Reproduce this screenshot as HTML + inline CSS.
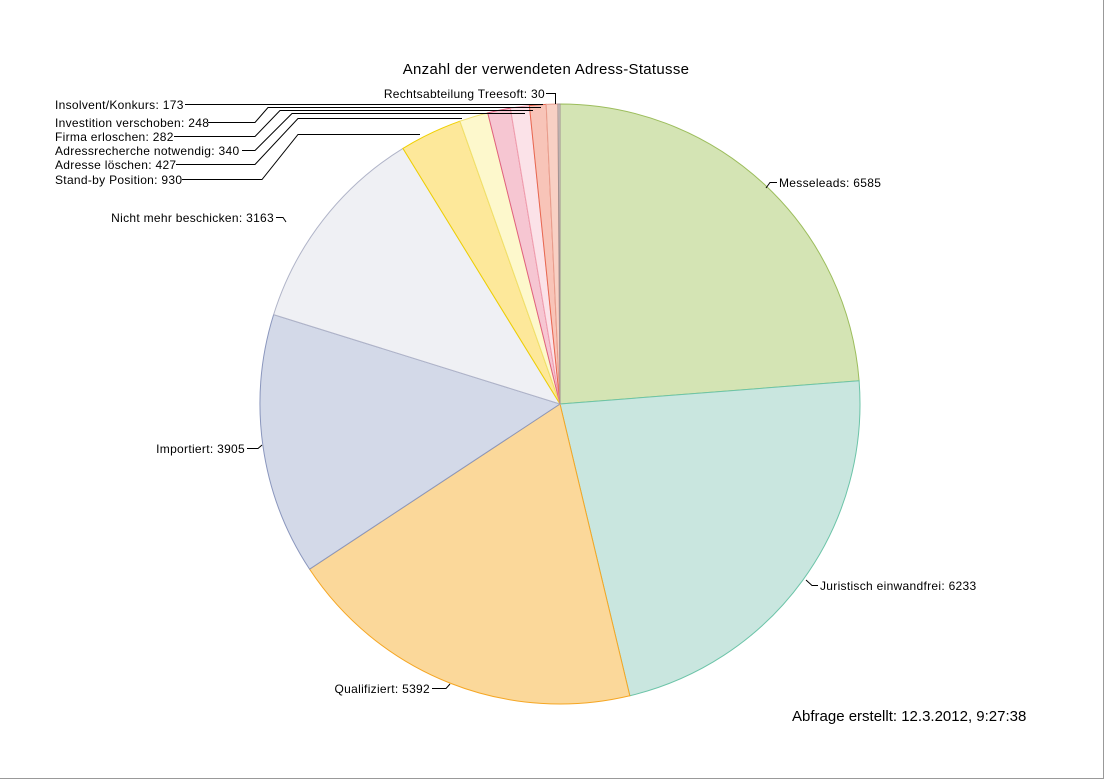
<!DOCTYPE html>
<html><head><meta charset="utf-8"><style>
body{margin:0;background:#fff}
#c{position:relative;width:1105px;height:780px;overflow:hidden;font-family:"Liberation Sans",sans-serif}
svg text{font-family:"Liberation Sans",sans-serif;fill:#000}
</style></head><body><div id="c">
<svg id="s" width="1105" height="780" xmlns="http://www.w3.org/2000/svg">
<line x1="1103.5" y1="0" x2="1103.5" y2="779" stroke="#999"/>
<line x1="0" y1="778.5" x2="1104" y2="778.5" stroke="#999"/>
<text x="546" y="74" font-size="15" letter-spacing="0.3" text-anchor="middle">Anzahl der verwendeten Adress-Statusse</text>
<g id="pie"></g>
<g fill="none" stroke="#000" stroke-width="1">
<polyline points="185,104.5 543,104.5"/>
<polyline points="208,122.5 255,122.5 268,107.5 541,107.5"/>
<polyline points="174,136.5 255,136.5 280,110.5 533,110.5"/>
<polyline points="242,150.5 255,150.5 292,113.5 525,113.5"/>
<polyline points="176,164.5 255,164.5 298,118.5 462,118.5"/>
<polyline points="182,179.5 262,179.5 298,134.5 420,134.5"/>
<polyline points="546,93.5 555.5,93.5 555.5,104"/>
<polyline points="766,188 770,182.5 777,182.5"/>
<polyline points="806,580 812,585.5 818,585.5"/>
<polyline points="432,688.5 446,688.5 450,684"/>
<polyline points="247,448.5 258,448.5 262,445"/>
<polyline points="276,217.5 283,217.5 286,222"/>
</g>
<g font-size="12" letter-spacing="0.3">
<text x="55" y="109">Insolvent/Konkurs: 173</text>
<text x="55" y="127">Investition verschoben: 248</text>
<text x="55" y="141">Firma erloschen: 282</text>
<text x="55" y="155">Adressrecherche notwendig: 340</text>
<text x="55" y="169">Adresse löschen: 427</text>
<text x="55" y="184">Stand-by Position: 930</text>
<text x="545" y="98" text-anchor="end">Rechtsabteilung Treesoft: 30</text>
<text x="779" y="187">Messeleads: 6585</text>
<text x="820" y="590">Juristisch einwandfrei: 6233</text>
<text x="430" y="693" text-anchor="end">Qualifiziert: 5392</text>
<text x="245" y="453" text-anchor="end">Importiert: 3905</text>
<text x="274" y="222" text-anchor="end">Nicht mehr beschicken: 3163</text>
</g>
<text x="792" y="721" font-size="15">Abfrage erstellt: 12.3.2012, 9:27:38</text>
</svg></div>
<script>
var d=[[6585,"#d4e4b4","#9cbd5c"],[6233,"#c9e6df","#6cc4a8"],[5392,"#fbd89a","#f5a623"],[3905,"#d3d9e8","#8a96bd"],[3163,"#eff0f4","#b0b4c8"],[930,"#fde89a","#f0d000"],[427,"#fdf8cc","#f0e070"],[340,"#f6c6d2","#e06080"],[282,"#fbe2e8","#f0a0b0"],[248,"#f8c4b8","#e86850"],[173,"#f8d0c4","#e8a090"],[30,"#dccfcc","#a09090"]];
var t=0;d.forEach(function(x){t+=x[0]});
var cx=560,cy=404,r=300,a=0,h="";
d.forEach(function(x){var a2=a+x[0]/t*2*Math.PI;
var x1=cx+r*Math.sin(a),y1=cy-r*Math.cos(a),x2=cx+r*Math.sin(a2),y2=cy-r*Math.cos(a2);
h+='<path d="M'+cx+','+cy+'L'+x1.toFixed(2)+','+y1.toFixed(2)+'A'+r+','+r+' 0 '+((a2-a)>Math.PI?1:0)+' 1 '+x2.toFixed(2)+','+y2.toFixed(2)+'Z" fill="'+x[1]+'" stroke="'+x[2]+'" stroke-width="1"/>';a=a2;});
document.getElementById("pie").innerHTML=h;
</script>
</body></html>
